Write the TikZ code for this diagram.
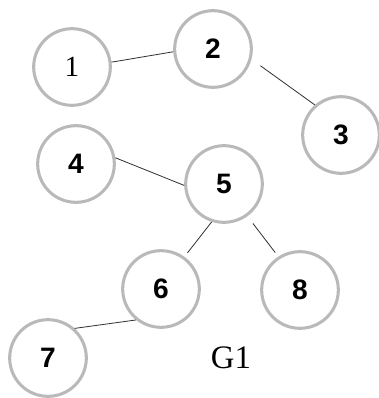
\documentclass[tikz,border=0pt]{standalone}
\usepackage{fontspec}
\setmainfont{Liberation Serif}
\setsansfont{Liberation Sans}
\usetikzlibrary{positioning}

\begin{document}
\begin{tikzpicture}[x=1cm,y=1cm, on grid,
    vertex/.style={circle, draw=gray!55, line width=2.6pt, minimum size=2.3cm,
      inner sep=0pt, font=\sffamily\bfseries\fontsize{24}{24}\selectfont},
    link/.style={draw=black!80, line width=0.7pt}]

  \useasboundingbox (0,0) rectangle (11.37,-11.94);

  % Nodes
  \node[vertex, font=\rmfamily\fontsize{25}{25}\selectfont] (n1) at (2.16,-2.01) {1};
  \node[vertex, above right = 0.54 and 4.23 of n1] (n2) {2};
  \node[vertex, below right = 2.58 and 3.84 of n2] (n3) {3};

  \node[vertex, below right = 2.91 and 0.12 of n1] (n4) {4};
  \node[vertex, below right = 0.6 and 4.44 of n4] (n5) {5};

  \node[vertex, below left = 3.15 and 1.89 of n5] (n6) {6};
  \node[vertex, below right = 3.18 and 2.28 of n5] (n8) {8};
  \node[vertex, below left = 2.07 and 3.39 of n6] (n7) {7};

  \node[font=\rmfamily\fontsize{28}{28}\selectfont, right = 5.49 of n7] (g1) {G1};

  % Edges
  \draw[link] (n1.7) -- (n2.184);
  \draw[link, shorten <=0.33cm] (n2.345) -- (n3.131);
  \draw[link] (n4.9) -- (n5.182);
  \draw[link, shorten >=0.15cm] (n5.252) -- (n6.54);
  \draw[link, shorten <=0.27cm, shorten >=0.15cm] (n5.306) -- (n8.123);
  \draw[link] (n6.231) -- (n7.48);
\end{tikzpicture}
\end{document}
